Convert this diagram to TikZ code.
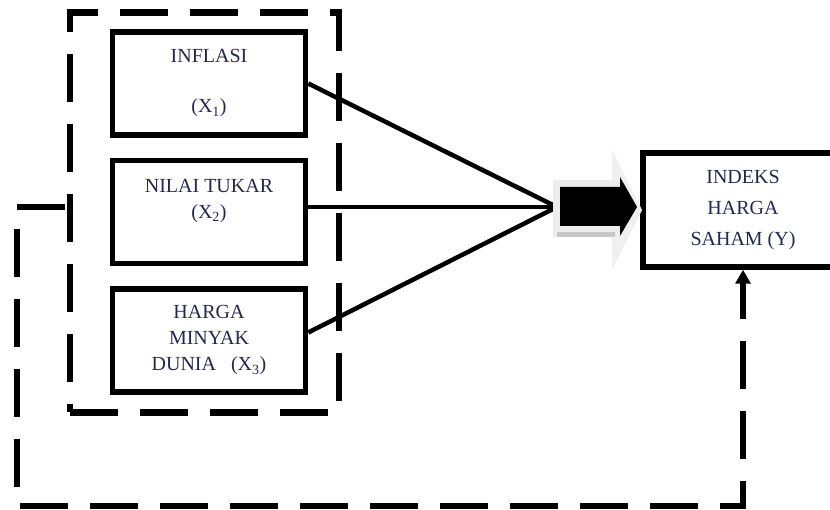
\documentclass[tikz,border=0pt]{standalone}
\usepackage{fontspec}
\setmainfont{Liberation Serif}
\usepackage{tikz}
\usetikzlibrary{positioning,arrows.meta,calc}
\definecolor{txtc}{RGB}{35,40,80}

\begin{document}
\begin{tikzpicture}[x=1pt,y=-1pt,node distance=20pt,
box/.style={draw,line width=5.5pt,minimum width=193pt,minimum height=103pt,align=center,text=txtc,font=\fontsize{20}{26}\selectfont,inner sep=0pt},
grp/.style={draw,line width=6.5pt,dash pattern=on 48pt off 22pt,minimum width=269pt,minimum height=400pt,inner sep=0pt},
lnk/.style={line width=4.5pt},
fb/.style={line width=6pt,dash pattern=on 48pt off 22pt,dash phase=68pt,-{Triangle[width=15pt,length=14pt]}}]
\useasboundingbox (0,0) rectangle (830,510);
% variabel bebas
\node[grp] (grp) at (204.5,212.5) {};
\node[box] (x1) at (209,83.5) {INFLASI\\[24pt](X\textsubscript{1})};
\node[box,below=of x1] (x2) {NILAI TUKAR\\(X\textsubscript{2})\\\mbox{}};
\node[box,below=of x2] (x3) {HARGA\\MINYAK\\DUNIA\ \ \ (X\textsubscript{3})};
% variabel terikat
\node[box,minimum width=200pt,minimum height=114pt,font=\fontsize{20}{31}\selectfont] (y) at (743,210) {INDEKS\\HARGA\\SAHAM (Y)};
\coordinate (jn) at (557,207);
\coordinate (cnr) at (16.5,505.5);
\draw[lnk] (x1.east) -- (jn);
\draw[lnk] (x2.east |- jn) -- (jn);
\draw[lnk] ([yshift=8pt]x3.east) -- (jn);
% panah besar
\fill[black!6] (612,150) -- (642,210) -- (612,270) -- cycle;
\fill[black!7] (553,180) rectangle (620,237);
\fill[black!22] (557,232) rectangle (615,237);
\fill (560,187) -- (620,187) -- (620,177) -- (637,207) -- (620,236) -- (620,226) -- (560,226) -- cycle;
% umpan balik
\draw[fb] (grp.west |- jn) -| (cnr) -| (y.south);
\end{tikzpicture}
\end{document}
